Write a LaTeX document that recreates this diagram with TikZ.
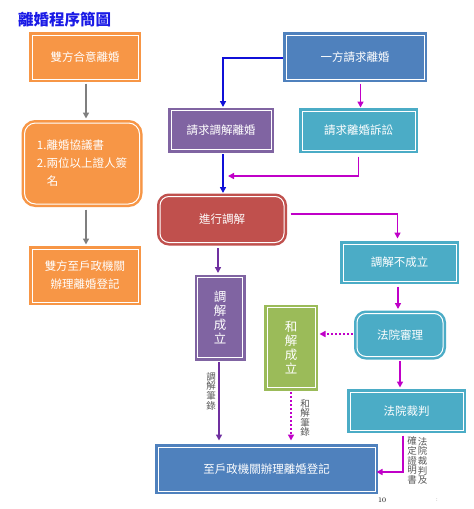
\documentclass[tikz,border=0pt]{standalone}
\usepackage{fontspec}
\newfontfamily\cjk{Noto Sans CJK TC}
\usetikzlibrary{arrows.meta}
\definecolor{cOrange}{HTML}{F79646}
\definecolor{cBlue}{HTML}{4F81BD}
\definecolor{cPurple}{HTML}{8064A2}
\definecolor{cTeal}{HTML}{4BACC6}
\definecolor{cRed}{HTML}{C0504D}
\definecolor{cGreen}{HTML}{9BBB59}
\definecolor{cTitle}{HTML}{1A1AE6}
\definecolor{cGray}{HTML}{7F7F7F}
\definecolor{cLabel}{HTML}{595959}
\definecolor{cMag}{HTML}{C000C8}
\definecolor{cLine}{HTML}{1010D8}
\definecolor{cViolet}{HTML}{7030A0}
\begin{document}
\begin{tikzpicture}[x=1pt,y=-1pt,
  box/.style={fill=#1, draw=white, line width=1pt, preaction={draw=#1, line width=6pt},
    text=white, font=\cjk\fontsize{11.5}{18}\selectfont, align=center, inner sep=0pt},
  tip/.style={-{Triangle[length=6pt,width=6pt]}},
  grayarr/.style={draw=cGray, line width=1.6pt, tip},
  bluearr/.style={draw=cLine, line width=1.6pt, tip},
  magarr/.style={draw=cMag, line width=1.6pt, tip},
  dotarr/.style={draw=cMag, line width=2pt, dash pattern=on 2pt off 2pt, tip},
  vioarr/.style={draw=cViolet, line width=1.6pt, tip},
  vlabel/.style={text=cLabel, font=\cjk\fontsize{9.5}{9.6}\selectfont, align=center, inner sep=0pt},
  vtext/.style={font=\cjk\fontsize{12.5}{14}\selectfont}
]
\useasboundingbox[fill=white] (0,0) rectangle (474,509);

\node[anchor=west, text=cTitle, inner sep=0pt, font=\cjk\bfseries\fontsize{15.5}{18}\selectfont] (title) at (18,20) {離婚程序簡圖};

% left column
\node[box=cOrange, minimum width=106pt, minimum height=44pt] (A) at (85,57) {雙方合意離婚};
\node[box=cOrange, minimum width=115pt, minimum height=81pt, rounded corners=11pt, align=left] (B) at (82,163.5)
  {1.離婚協議書\\2.兩位以上證人簽\\\hspace{10pt}名};
\node[box=cOrange, minimum width=106pt, minimum height=53pt] (C) at (85,275.5) {雙方至戶政機關\\辦理離婚登記};

% right part
\node[box=cBlue, minimum width=138pt, minimum height=44pt] (D) at (355,57) {一方請求離婚};
\node[box=cPurple, minimum width=100pt, minimum height=39pt] (E) at (221,130) {請求調解離婚};
\node[box=cTeal, minimum width=113pt, minimum height=39pt] (F) at (358.5,130.5) {請求離婚訴訟};
\node[box=cRed, minimum width=124pt, minimum height=46pt, rounded corners=9pt] (G) at (222,219.5) {進行調解};
\node[box=cTeal, minimum width=113pt, minimum height=37pt] (H) at (399.5,262.5) {調解不成立};
\node[box=cTeal, minimum width=86pt, minimum height=43pt, rounded corners=9pt] (I) at (400,335) {法院審理};
\node[box=cGreen, minimum width=48pt, minimum height=80pt, vtext] (J) at (291,347.5) {和\\解\\成\\立};
\node[box=cPurple, minimum width=45pt, minimum height=80pt, vtext] (K) at (220,317.5) {調\\解\\成\\立};
\node[box=cTeal, minimum width=113pt, minimum height=38pt] (M) at (406.5,411) {法院裁判};
\node[box=cBlue, minimum width=217pt, minimum height=44pt] (L) at (266.5,469) {至戶政機關辦理離婚登記};

% connectors
\draw[grayarr, shorten <=4pt, shorten >=4pt] ([xshift=1pt]A.south) -- ([xshift=4pt]B.north);
\draw[grayarr, shorten <=5pt, shorten >=4pt] ([xshift=4pt]B.south) -- ([xshift=1pt]C.north);

\draw[bluearr, shorten <=3pt, shorten >=3pt] ([yshift=-1pt]D.west) -| ([xshift=2pt]E.north);
\draw[magarr, shorten <=4pt, shorten >=3pt] ([xshift=5.5pt]D.south) -- ([xshift=5.5pt]D.south |- F.north);
\draw[bluearr, shorten <=4pt, shorten >=3pt] ([xshift=2pt]E.south) -- ([xshift=2pt]E.south |- G.north);
\coordinate (fe) at (228,176);
\draw[magarr, shorten <=6pt] (F.south) |- (fe);
\draw[magarr, shorten <=6pt, shorten >=5pt] ([yshift=5.5pt]G.east) -| ([xshift=-2pt]H.north);
\draw[magarr, shorten <=5pt, shorten >=4pt] ([xshift=-1.5pt]H.south) -- ([xshift=-1.5pt]H.south |- I.north);
\draw[dotarr, shorten <=4pt, shorten >=4pt] ([yshift=1pt]I.west) -- ([yshift=1pt]I.west -| J.east);
\draw[magarr, shorten <=4pt, shorten >=4pt] (I.south) -- (I.south |- M.north);
\draw[vioarr, shorten <=5pt, shorten >=4pt] ([xshift=-2pt]K.north |- G.south) -- ([xshift=-2pt]K.north);
\draw[vioarr, shorten <=4pt, shorten >=6pt] ([xshift=-1pt]K.south) -- ([xshift=-1pt]K.south |- L.north);
\draw[dotarr, shorten <=4pt, shorten >=6pt] (J.south) -- (J.south |- L.north);
\draw[magarr, shorten <=5pt, shorten >=1pt] ([xshift=-3.5pt]M.south) |- ([yshift=-3pt]L.east);

% labels
\node[vlabel] (l1) at (211,391) {調\\解\\筆\\錄};
\node[vlabel] (l2) at (305,418) {和\\解\\筆\\錄};
\node[vlabel] (l3) at (422.5,461) {法\\院\\裁\\判\\及};
\node[vlabel] (l4) at (412,460.5) {確\\定\\證\\明\\書};
\node[font=\fontsize{7}{8}\selectfont, inner sep=0pt] (pg) at (382,500) {10};
\node[text=cGray, font=\fontsize{6}{7}\selectfont, inner sep=0pt] (dots) at (437,500) {:};
\end{tikzpicture}
\end{document}
